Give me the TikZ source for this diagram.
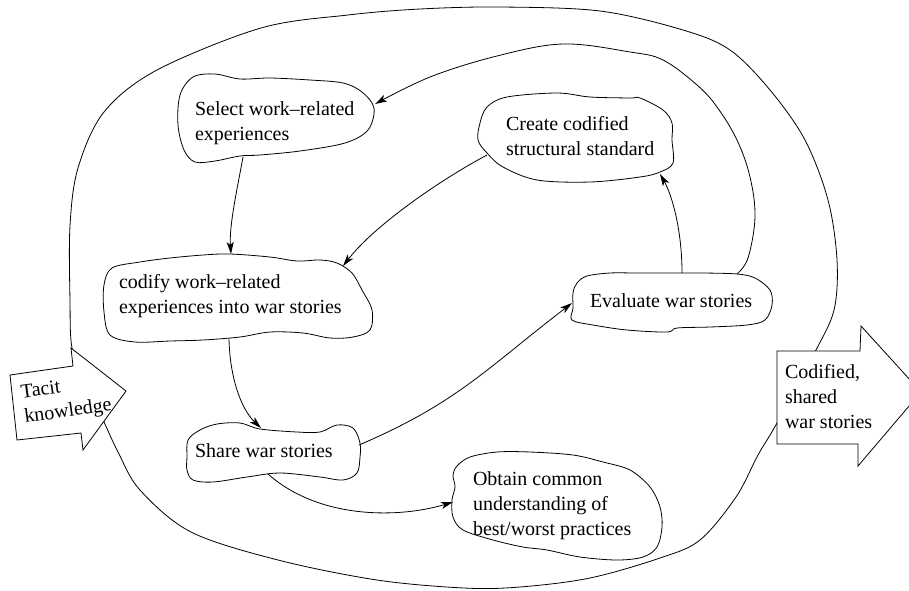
\documentclass[tikz,border=0pt]{standalone}
\usepackage{fontspec}
\setmainfont{Liberation Serif}
\usetikzlibrary{arrows.meta}
\begin{document}
\begin{tikzpicture}[x=1pt,y=-1pt,
  line width=0.8pt,
  every node/.style={inner sep=0pt, outer sep=0pt},
  labeltext/.style={anchor=north west, align=left, font=\fontsize{20}{25}\selectfont},
  blob/.style={draw, fill=white, line join=round},
  flow/.style={draw, -{Stealth[length=12pt,width=7pt,inset=3pt]}},
  bigarrow/.style={draw, fill=white, line join=miter}]

\useasboundingbox[fill=white] (0,0) rectangle (909,590);

% outer cycle
\draw[line join=round] plot[smooth cycle, tension=0.55] coordinates {
  (500,7) (600,11) (683,30) (730,50) (770,90) (805,140) (828,200) (837,260)
  (834,310) (815,352) (777,423) (758,455) (736,497) (700,540) (660,558)
  (590,578) (520,587) (464,588) (377,580) (278,560) (191,532) (140,490)
  (118,452) (103,420) (85,385) (72,348) (70,301) (70,226) (78,168)
  (104,112) (157,70) (261,28) (348,15) (420,9)};

% process blobs
\draw[blob] plot[smooth cycle, tension=0.55] coordinates {
  (193,77) (215,74) (240,79) (270,78) (310,80) (343,83) (362,92) (374,108)
  (368,130) (345,143) (300,151) (260,155) (240,156) (215,161) (195,162)
  (184,150) (178,125) (180,95)};
\draw[blob] plot[smooth cycle, tension=0.55] coordinates {
  (487,107) (507,97) (557,93) (590,97) (630,98) (640,98) (663,110) (672,123)
  (672,140) (673,163) (660,172) (640,177) (590,182) (537,180) (503,167)
  (487,153) (478,140) (480,123)};
\draw[blob] plot[smooth cycle, tension=0.55] coordinates {
  (112,268) (140,262) (170,258) (203,255) (230,254) (270,257) (297,261)
  (320,260) (337,263) (352,273) (362,290) (372,310) (370,330) (353,337)
  (330,338) (303,333) (270,332) (240,337) (203,340) (170,341) (135,342)
  (110,335) (104,312) (104,285)};
\draw[blob] plot[smooth cycle, tension=0.55] coordinates {
  (587,276) (610,273) (637,273) (673,273) (703,273) (737,274) (755,278)
  (770,290) (772,305) (765,320) (747,325) (710,327) (677,328) (667,332)
  (627,330) (593,325) (572,320) (573,308) (573,293) (577,283)};
\draw[blob] plot[smooth cycle, tension=0.55] coordinates {
  (188,440) (200,430) (217,424) (240,423) (260,429) (297,432) (320,432)
  (337,425) (353,428) (360,443) (360,457) (357,473) (343,480) (320,477)
  (280,473) (247,477) (213,482) (193,480) (187,470) (187,457)};
\draw[blob] plot[smooth cycle, tension=0.55] coordinates {
  (457,466) (470,457) (497,452) (530,452) (573,455) (603,462) (630,470)
  (650,487) (660,507) (662,527) (657,547) (643,557) (617,560) (580,557)
  (547,550) (523,547) (493,540) (463,530) (453,517) (452,500) (455,487)
  (453,475)};

% connector end points
\coordinate (sel-s)  at (243,157);
\coordinate (cod-n)  at (231,254);
\coordinate (cod-s)  at (229,339);
\coordinate (sha-n)  at (261,428);
\coordinate (sha-e)  at (359,445);
\coordinate (eva-w)  at (572,303);
\coordinate (sha-s)  at (268,474);
\coordinate (obt-w)  at (453,502);
\coordinate (cre-w)  at (487,155);
\coordinate (cod-ne) at (343,266);
\coordinate (eva-n)  at (682,273);
\coordinate (cre-s)  at (660,174);
\coordinate (eva-ne) at (737,274);
\coordinate (sel-e)  at (375,104);

% connectors
\draw[flow] (sel-s) .. controls (238,185) and (229,225) .. (cod-n);
\draw[flow] (cod-s) .. controls (230,380) and (242,410) .. (sha-n);
\draw[flow] (sha-e) .. controls (457,403) and (486,369) .. (eva-w);
\draw[flow] (sha-s) .. controls (320,520) and (400,518) .. (obt-w);
\draw[flow] (cre-w) .. controls (440,180) and (375,225) .. (cod-ne);
\draw[flow] (eva-n) .. controls (682,230) and (672,195) .. (cre-s);
\draw[flow] plot[smooth, tension=0.6] coordinates {
  (eva-ne) (748,258) (755,217) (750,177) (737,140) (717,107) (697,85)
  (663,60) (630,52) (563,44) (497,56) (430,77) (sel-e)};

% input and output block arrows
\draw[bigarrow] (71,348) -- (126,391) -- (83,450) -- (81,433) -- (17,440)
  -- (10,375) -- (73,366) -- cycle;
\draw[bigarrow] (777,351) -- (860,351) -- (861,326) -- (921,392) -- (858,466)
  -- (858,444) -- (777,444) -- cycle;

% labels
\node[labeltext] (sel) at (195,101.3) {Select work--related\\experiences};
\node[labeltext] (cre) at (506,116.3) {Create codified\\structural standard};
\node[labeltext] (cod) at (119,274.3) {codify work--related\\experiences into war stories};
\node[labeltext] (eva) at (590,293.3) {Evaluate war stories};
\node[labeltext] (sha) at (195,443.3) {Share war stories};
\node[labeltext] (obt) at (473,471.3) {Obtain common\\understanding of\\best/worst practices};
\node[labeltext] (out) at (785,364.3) {Codified,\\shared\\war stories};
\node[labeltext, rotate=8] (tac) at (20,385) {Tacit\\knowledge};
\end{tikzpicture}
\end{document}
